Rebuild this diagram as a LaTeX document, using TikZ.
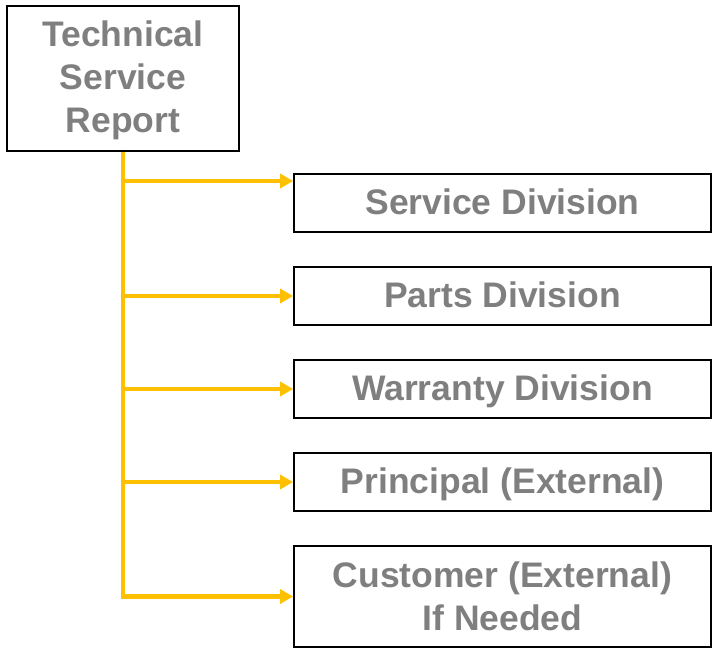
\documentclass[tikz,border=0pt]{standalone}
\usepackage{fontspec}
\setmainfont{Liberation Sans}
\usepackage{tikz}
\usetikzlibrary{arrows.meta}
\definecolor{amber}{RGB}{255,192,0}
\definecolor{txtgray}{RGB}{127,127,127}

\begin{document}
\begin{tikzpicture}[x=1pt, y=-1pt, >={Triangle[length=13pt, width=14pt]},
    box/.style={draw=black, line width=1.8pt, minimum width=417pt, inner sep=0pt,
        align=center, text=txtgray, font=\fontsize{35.5}{43}\selectfont\bfseries},
    oneline/.style={box, minimum height=58pt, text height=26pt, text depth=3.5pt},
    feed/.style={amber, line width=4.5pt}]
    \useasboundingbox (0,0) rectangle (718,655);

    % Source report
    \node[box, minimum width=232pt, minimum height=145pt] (report) at (123,78.5)
        {\rule{0pt}{29pt}Technical\\Service\\Report};

    % Receiving divisions
    \node[oneline] (svc) at (502.5,203) {Service Division};
    \node[oneline] (parts) at (502.5,296) {Parts Division};
    \node[oneline] (warr) at (502.5,389) {Warranty Division};
    \node[oneline] (prin) at (502.5,482) {Principal (External)};
    \node[box, minimum height=101pt] (cust) at (502.5,596.5) {Customer (External)\\If Needed};

    % Distribution lines
    \draw[feed, ->] (report.south) |- (cust.west);
    \draw[feed, ->] (report.south |- 0,181) -- (svc.west |- 0,181);
    \foreach \n in {parts, warr, prin} {
        \draw[feed, ->] (report.south |- \n.west) -- (\n.west);
    }
\end{tikzpicture}
\end{document}
